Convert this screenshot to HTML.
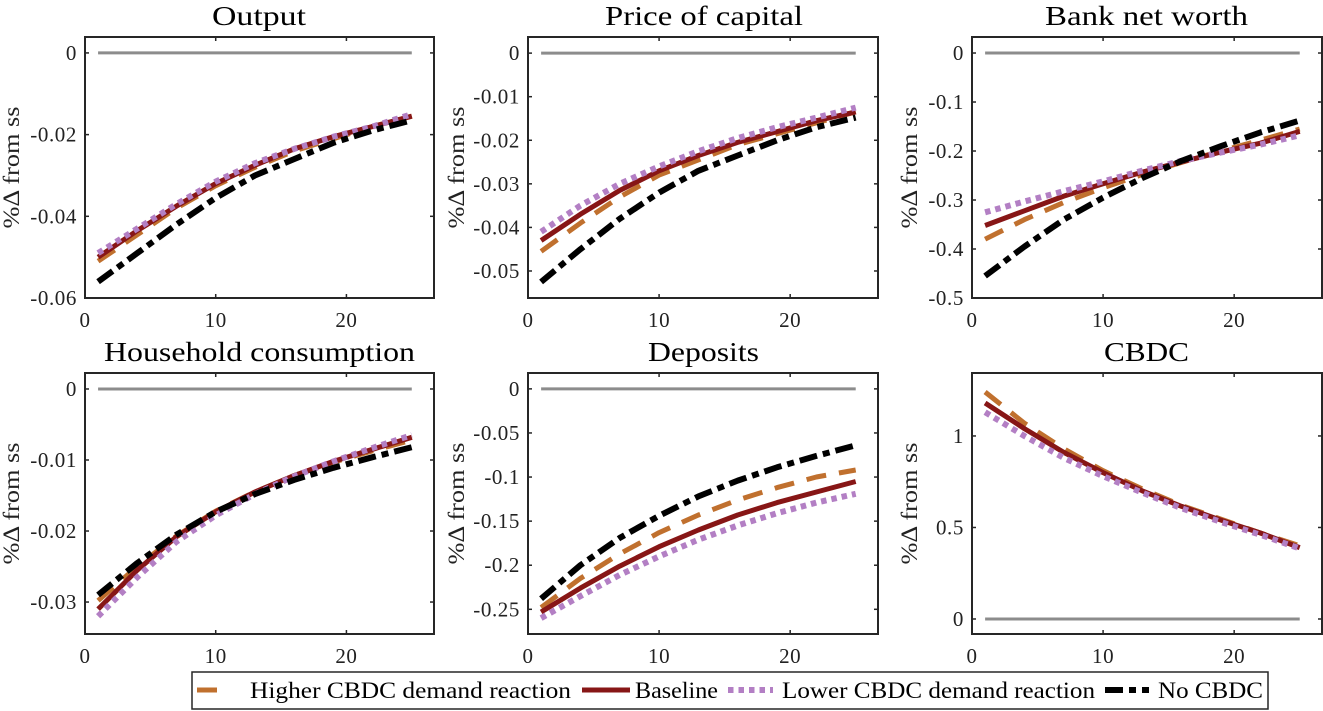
<!DOCTYPE html>
<html><head><meta charset="utf-8"><style>
html,body{margin:0;padding:0;background:#fff;}
svg{display:block;font-family:"Liberation Serif",serif;}
</style></head><body>
<svg id="fig" width="1323" height="711" viewBox="0 0 1323 711"></svg>
<script>
const periods = [1,4,7,10,13,16,19,22,25];
const seriesNames = ["higher","baseline","lower","nocbdc"];
const titles = ["Output","Price of capital","Bank net worth","Household consumption","Deposits","CBDC"];
// Output
const outHigher = [-0.051,-0.0445,-0.038,-0.0325,-0.028,-0.024,-0.021,-0.018,-0.0155];
const outBaseline = [-0.050,-0.0435,-0.0375,-0.032,-0.0275,-0.0235,-0.0205,-0.018,-0.0155];
const outLower = [-0.049,-0.043,-0.037,-0.0315,-0.027,-0.0235,-0.0205,-0.018,-0.015];
const outNo = [-0.056,-0.049,-0.042,-0.0355,-0.030,-0.026,-0.022,-0.019,-0.0165];
// Price of capital
const pkHigher = [-0.0455,-0.039,-0.033,-0.028,-0.0245,-0.021,-0.0185,-0.016,-0.0135];
const pkBaseline = [-0.043,-0.037,-0.0315,-0.027,-0.0235,-0.0205,-0.018,-0.0155,-0.0135];
const pkLower = [-0.041,-0.035,-0.030,-0.026,-0.0225,-0.0195,-0.017,-0.0148,-0.0125];
const pkNo = [-0.0525,-0.045,-0.038,-0.032,-0.027,-0.0235,-0.020,-0.017,-0.0148];
// Bank net worth
const nwHigher = [-0.38,-0.34,-0.305,-0.275,-0.248,-0.223,-0.200,-0.178,-0.155];
const nwBaseline = [-0.352,-0.322,-0.292,-0.267,-0.243,-0.222,-0.202,-0.184,-0.160];
const nwLower = [-0.325,-0.303,-0.282,-0.262,-0.240,-0.220,-0.203,-0.187,-0.168];
const nwNo = [-0.455,-0.395,-0.34,-0.295,-0.255,-0.220,-0.190,-0.162,-0.138];
// Household consumption
const hcHigher = [-0.0298,-0.025,-0.0207,-0.0172,-0.0145,-0.0122,-0.0103,-0.0087,-0.0072];
const hcBaseline = [-0.031,-0.0255,-0.0208,-0.0173,-0.0145,-0.0122,-0.0102,-0.0085,-0.0068];
const hcLower = [-0.032,-0.0265,-0.0215,-0.0178,-0.0148,-0.0123,-0.0102,-0.0083,-0.0065];
const hcNo = [-0.029,-0.0245,-0.0205,-0.0173,-0.0148,-0.0128,-0.0111,-0.0096,-0.0082];
// Deposits
const dpHigher = [-0.248,-0.215,-0.187,-0.163,-0.143,-0.126,-0.112,-0.100,-0.092];
const dpBaseline = [-0.253,-0.226,-0.201,-0.179,-0.160,-0.143,-0.129,-0.117,-0.105];
const dpLower = [-0.26,-0.235,-0.211,-0.190,-0.171,-0.155,-0.141,-0.129,-0.119];
const dpNo = [-0.238,-0.200,-0.169,-0.144,-0.122,-0.104,-0.089,-0.076,-0.064];
// CBDC
const cbHigher = [1.24,1.07,0.93,0.81,0.71,0.62,0.545,0.47,0.40];
const cbBaseline = [1.18,1.04,0.91,0.80,0.70,0.615,0.54,0.47,0.39];
const cbLower = [1.13,1.00,0.88,0.78,0.69,0.605,0.53,0.46,0.385];
// ticks
const yTicks = [[0,-0.02,-0.04,-0.06],[0,-0.01,-0.02,-0.03,-0.04,-0.05],[0,-0.1,-0.2,-0.3,-0.4,-0.5],[0,-0.01,-0.02,-0.03],[0,-0.05,-0.1,-0.15,-0.2,-0.25],[0,0.5,1]];
const yTickLabels = [["0","-0.02","-0.04","-0.06"],["0","-0.01","-0.02","-0.03","-0.04","-0.05"],["0","-0.1","-0.2","-0.3","-0.4","-0.5"],["0","-0.01","-0.02","-0.03"],["0","-0.05","-0.1","-0.15","-0.2","-0.25"],["0","0.5","1"]];
const yLims = [[-0.06,0.0039],[-0.0562,0.0037],[-0.5,0.0327],[-0.0345,0.00225],[-0.278,0.018],[-0.082,1.344]];
const xTicks = [0,10,20];
const xLim = [0,26.7];

const panelData = [
 [outHigher,outBaseline,outLower,outNo],
 [pkHigher,pkBaseline,pkLower,pkNo],
 [nwHigher,nwBaseline,nwLower,nwNo],
 [hcHigher,hcBaseline,hcLower,hcNo],
 [dpHigher,dpBaseline,dpLower,dpNo],
 [cbHigher,cbBaseline,cbLower,null]
];
const boxes = [[85,37,434,298],[528,37,878,298],[972,37,1322,298],[85,373,434,634],[528,373,878,634],[972,373,1322,634]];
const titleSpan = [[212,306],[605,803],[1045,1248],[104,415],[648,759],[1104,1189]];
const styles = {
 higher:{stroke:"#c0702e",w:5,dash:"20 13"},
 baseline:{stroke:"#871616",w:5,dash:""},
 lower:{stroke:"#b37fc4",w:6,dash:"5.5 5"},
 nocbdc:{stroke:"#000",w:6,dash:"18 6 7 6"}
};
const NS="http://www.w3.org/2000/svg";
const svg=document.getElementById('fig');
function mk(tag,attrs,parent){const e=document.createElementNS(NS,tag);for(const k in attrs)e.setAttribute(k,attrs[k]);(parent||svg).appendChild(e);return e;}

boxes.forEach((b,i)=>{
 const [x0,y0,x1,y1]=b;
 const g=mk('g',{});
 
 
 const xs=v=>x0+(v-xLim[0])/(xLim[1]-xLim[0])*(x1-x0);
 const ys=v=>y1-(v-yLims[i][0])/(yLims[i][1]-yLims[i][0])*(y1-y0);
 const t=mk('text',{x:titleSpan[i][0],y:y0-12,'font-size':27,fill:'#000',textLength:titleSpan[i][1]-titleSpan[i][0],lengthAdjust:'spacingAndGlyphs'},g);
 t.textContent=titles[i];
 
 
 const yl=mk('text',{x:0,y:0,'text-anchor':'middle','font-size':23,fill:'#222',textLength:122,lengthAdjust:'spacingAndGlyphs',transform:`translate(${x0-(i%3==0?66:(i==2||i==5?55:64))},${(y0+y1)/2}) rotate(-90)`},g);
 yl.textContent='%\u0394 from ss';
 
 
 const zl=mk('line',{x1:xs(1),x2:xs(25),y1:ys(0),y2:ys(0),stroke:'#8c8c8c','stroke-width':3},g);
 
 
 panelData[i].forEach((arr,k)=>{
  if(!arr) return;
  const st=styles[seriesNames[k]];
  const pts=periods.map((p,j)=>xs(p).toFixed(1)+','+ys(arr[j]).toFixed(1)).join(' ');
  const pl=mk('polyline',{points:pts,fill:'none',stroke:st.stroke,'stroke-width':st.w,'stroke-dasharray':st.dash,'stroke-linejoin':'round'},g);
  
  
 });
 const r=mk('rect',{x:x0,y:y0,width:x1-x0,height:y1-y0,fill:'none',stroke:'#262626','stroke-width':2},g);
 
 
 yTicks[i].forEach((v,k)=>{
  const y=ys(v);
  mk('line',{x1:x0,x2:x0+4,y1:y,y2:y,stroke:'#262626','stroke-width':1.5},g);
  mk('line',{x1:x1,x2:x1-4,y1:y,y2:y,stroke:'#262626','stroke-width':1.5},g);
  const tl=mk('text',{x:x0-8,y:y+7,'text-anchor':'end','font-size':21,'letter-spacing':0.6,fill:'#222'},g);
  tl.textContent=yTickLabels[i][k];
  
  
 });
 xTicks.forEach(v=>{
  const x=xs(v);
  mk('line',{x1:x,x2:x,y1:y1,y2:y1-4,stroke:'#262626','stroke-width':1.5},g);
  mk('line',{x1:x,x2:x,y1:y0,y2:y0+4,stroke:'#262626','stroke-width':1.5},g);
  const tl=mk('text',{x:x,y:y1+29,'text-anchor':'middle','font-size':21,'letter-spacing':0.6,fill:'#222'},g);
  tl.textContent=String(v);
  
  
 });
});

const lg=mk('g',{});


mk('rect',{x:192,y:672,width:1076,height:37,fill:'#fff',stroke:'#262626','stroke-width':1.5},lg);
const legendLabels=["Higher CBDC demand reaction","Baseline","Lower CBDC demand reaction","No CBDC"];
const legSample=[[197,222],[582,630],[728,773],[1105,1149]];
const legText=[[250,571],[635,718],[782,1095],[1158,1263]];
legendLabels.forEach((lab,k)=>{
 const st=styles[seriesNames[k]];
 const e=mk('g',{},lg);
 
 
 mk('line',{x1:legSample[k][0],x2:legSample[k][1],y1:690,y2:690,stroke:st.stroke,'stroke-width':st.w,'stroke-dasharray':st.dash},e);
 const t=mk('text',{x:legText[k][0],y:698,'font-size':23,fill:'#000',textLength:legText[k][1]-legText[k][0],lengthAdjust:'spacingAndGlyphs'},e);
 t.textContent=lab;
});
</script>
</body></html>
